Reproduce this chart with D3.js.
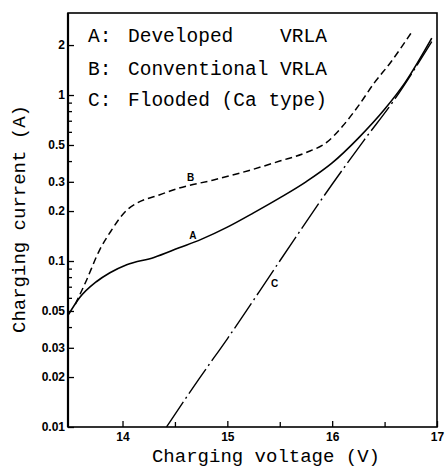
<!DOCTYPE html>
<html>
<head>
<meta charset="utf-8">
<script src="https://cdn.jsdelivr.net/npm/d3@7"></script>
<style>
  body { margin: 0; background: #fff; }
  .tick text { font-family: "Liberation Sans", Arial, sans-serif; font-weight: bold; font-size: 12px; }
  .mono { font-family: "Liberation Mono", "Courier New", monospace; white-space: pre; }
</style>
</head>
<body>
<div id="chart"></div>
<script>
// charging voltage (V) / charging current (A)
var curveA_v = [13.48, 13.59, 13.75, 13.88, 14.04, 14.3, 14.54, 14.75, 15.0, 15.25, 15.5, 15.75, 16.0, 16.25, 16.5, 16.7, 16.95];
var curveA_i = [0.047, 0.06, 0.075, 0.085, 0.095, 0.105, 0.12, 0.135, 0.16, 0.195, 0.24, 0.3, 0.39, 0.55, 0.82, 1.2, 2.2];

var curveB_v = [13.55, 13.65, 13.78, 13.9, 13.97, 14.05, 14.13, 14.35, 14.54, 14.86, 15.2, 15.5, 15.75, 15.95, 16.1, 16.25, 16.4, 16.55, 16.75];
var curveB_i = [0.055, 0.075, 0.116, 0.155, 0.18, 0.205, 0.222, 0.25, 0.275, 0.307, 0.35, 0.4, 0.45, 0.52, 0.65, 0.86, 1.18, 1.55, 2.35];

var curveC_v = [14.42, 14.73, 15.0, 15.5, 16.0, 16.3, 16.6, 16.95];
var curveC_i = [0.01, 0.0195, 0.034, 0.1, 0.29, 0.53, 0.95, 2.1];

var xTicks = [14, 15, 16, 17];
var xMinor = [14.5, 15.5, 16.5];
var yTicks = [0.01, 0.02, 0.03, 0.05, 0.1, 0.2, 0.3, 0.5, 1, 2];
var yMinor = [0.04, 0.06, 0.07, 0.08, 0.09, 0.4, 0.6, 0.7, 0.8, 0.9];

var legendKeys = ["A:", "B:", "C:"];
var legendTexts = ["Developed    VRLA", "Conventional VRLA", "Flooded (Ca type)"];

var W = 447, H = 468;
var plot = {left: 68, right: 437, top: 13, bottom: 427};

var svg = d3.select("#chart")
  .append("svg")
    .attr("width", W)
    .attr("height", H);

var x = d3.scaleLinear()
  .domain([13.48, 17])
  .range([plot.left, plot.right]);

var y = d3.scaleLog()
  .domain([0.01, 3.12])
  .range([plot.bottom, plot.top]);

// frame
svg.append("rect")
  .attr("x", plot.left).attr("y", plot.top)
  .attr("width", plot.right - plot.left).attr("height", plot.bottom - plot.top)
  .attr("fill", "none")
  .attr("stroke", "#000")
  .attr("stroke-width", 1.6);
// left axis line is heavier in the original
svg.append("line")
  .attr("x1", plot.left).attr("x2", plot.left)
  .attr("y1", plot.top).attr("y2", plot.bottom)
  .attr("stroke", "#000")
  .attr("stroke-width", 2.2);

// x axis, ticks pointing inward
svg.append("g")
  .attr("transform", "translate(0," + plot.bottom + ")")
  .call(d3.axisBottom(x).tickValues(xTicks).tickSize(-6).tickPadding(5).tickFormat(d3.format("d")));
svg.append("g")
  .attr("transform", "translate(0," + plot.bottom + ")")
  .call(d3.axisBottom(x).tickValues(xMinor).tickSize(-5).tickFormat(""));

// y axis
svg.append("g")
  .attr("transform", "translate(" + plot.left + ",0)")
  .call(d3.axisLeft(y).tickValues(yTicks).tickSize(-6).tickPadding(3).tickFormat(function(d) { return String(d); }));
svg.append("g")
  .attr("transform", "translate(" + plot.left + ",0)")
  .call(d3.axisLeft(y).tickValues(yMinor).tickSize(-4).tickFormat(""));

svg.selectAll(".domain").remove();
svg.selectAll(".tick line").attr("stroke", "#000").attr("stroke-width", 1.3);
svg.selectAll(".tick text").attr("fill", "#000");

// curves
var line = d3.line()
  .x(function(d) { return x(d[0]); })
  .y(function(d) { return y(d[1]); })
  .curve(d3.curveMonotoneX);

function pairs(vs, is) {
  return vs.map(function(v, k) { return [v, is[k]]; });
}

svg.append("path")
  .datum(pairs(curveA_v, curveA_i))
  .attr("d", line)
  .attr("fill", "none")
  .attr("stroke", "#000")
  .attr("stroke-width", 1.6);

svg.append("path")
  .datum(pairs(curveB_v, curveB_i))
  .attr("d", line)
  .attr("fill", "none")
  .attr("stroke", "#000")
  .attr("stroke-width", 1.5)
  .attr("stroke-dasharray", "7,4");

svg.append("path")
  .datum(pairs(curveC_v, curveC_i))
  .attr("d", line)
  .attr("fill", "none")
  .attr("stroke", "#000")
  .attr("stroke-width", 1.4)
  .attr("stroke-dasharray", "30,4,2,4");

// small curve labels
var curveLabels = [["B", 14.65, 0.303], ["A", 14.67, 0.136], ["C", 15.45, 0.07]];
svg.selectAll(".clabel")
  .data(curveLabels)
  .enter()
  .append("text")
    .attr("class", "clabel")
    .attr("x", function(d) { return x(d[1]); })
    .attr("y", function(d) { return y(d[2]); })
    .attr("text-anchor", "middle")
    .style("font-family", "Liberation Sans, Arial, sans-serif")
    .style("font-size", "10px")
    .style("font-weight", "bold")
    .text(function(d) { return d[0]; });

// legend text block
var rowY = [42, 75, 106];
legendKeys.forEach(function(k, i) {
  svg.append("text")
    .attr("class", "mono")
    .attr("x", 88).attr("y", rowY[i])
    .style("font-size", "19.5px")
    .text(k);
  svg.append("text")
    .attr("class", "mono")
    .attr("x", 128).attr("y", rowY[i])
    .style("font-size", "19.5px")
    .text(legendTexts[i]);
});

// axis titles
svg.append("text")
  .attr("class", "mono")
  .attr("x", 266).attr("y", 462)
  .attr("text-anchor", "middle")
  .style("font-size", "19px")
  .text("Charging voltage (V)");

svg.append("text")
  .attr("class", "mono")
  .attr("transform", "translate(25,219) rotate(-90)")
  .attr("text-anchor", "middle")
  .style("font-size", "19px")
  .text("Charging current (A)");
</script>
</body>
</html>
